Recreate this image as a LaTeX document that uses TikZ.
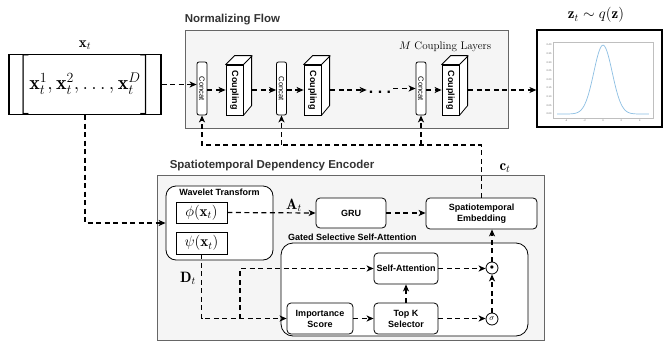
\RequirePackage{fix-cm}
\documentclass[tikz,border=0pt]{standalone}
\usepackage{amsmath}
\usepackage{amssymb}
\usepackage{graphicx}
\usepackage{fontspec}
\setsansfont{Liberation Sans}
\usepackage{tikz}
\usetikzlibrary{arrows.meta}
\definecolor{panelfill}{HTML}{F5F5F5}
\definecolor{panelline}{HTML}{666666}
\definecolor{titlegray}{HTML}{333333}
\definecolor{curveblue}{HTML}{8DBFE3}

\begin{document}
\begin{tikzpicture}[x=1pt,y=-1pt,
	panel/.style={draw=panelline,fill=panelfill,line width=0.8pt,inner sep=0pt},
	paneltitle/.style={font=\sffamily\bfseries\fontsize{11.5}{13}\selectfont,text=titlegray,inner sep=0pt},
	block/.style={draw,fill=white,rounded corners=4pt,line width=0.8pt,align=center,inner sep=0pt,font=\sffamily\bfseries\fontsize{9}{11}\selectfont},
	plainbox/.style={draw,fill=white,line width=0.8pt,inner sep=0pt},
	concatbox/.style={draw,fill=white,rounded corners=2pt,line width=0.8pt,inner sep=0pt,minimum width=10,minimum height=53,font=\sffamily\fontsize{7.5}{9}\selectfont},
	couplingbox/.style={draw,fill=white,line width=0.8pt,inner sep=0pt,minimum width=17,minimum height=50,font=\sffamily\bfseries\fontsize{9}{11}\selectfont},
	sublabel/.style={inner sep=0pt,font=\sffamily\bfseries\fontsize{9}{11}\selectfont},
	mathlabel/.style={inner sep=0pt,font=\fontsize{15}{18}\selectfont},
	gate/.style={draw,fill=white,circle,line width=0.8pt,inner sep=0pt,minimum size=12,font=\fontsize{8}{9}\selectfont},
	ticklbl/.style={inner sep=0.3pt,text=black!60,font=\sffamily\fontsize{2.5}{3}\selectfont},
	flow/.style={draw,line width=1.2pt,dash pattern=on 5pt off 3.5pt,-{Stealth[length=7pt,width=6pt,inset=2pt]}}
]
	\useasboundingbox (0,0) rectangle (664,343);

	% panels
	\node[panel,minimum width=323,minimum height=98] (nf) at (346.5,79) {};
	\node[paneltitle,anchor=south west] (nftitle) at ([yshift=4pt]nf.north west) {Normalizing Flow};
	\node[panel,minimum width=387,minimum height=165] (enc) at (350.5,257.5) {};
	\node[paneltitle,anchor=south west] (enctitle) at ([xshift=13pt,yshift=4pt]enc.north west) {Spatiotemporal Dependency Encoder};

	% input
	\node[plainbox,line width=1.2pt,minimum width=152,minimum height=59,font=\fontsize{20}{24}\selectfont] (inp) at (85,84.5)
		{$\Bigg[\mathbf{x}_t^1,\mathbf{x}_t^2,\ldots,\mathbf{x}_t^D\Bigg]$};
	\node[mathlabel] (xlbl) at (85,45) {$\mathbf{x}_t$};

	% normalizing flow
	\node[concatbox] (cc1) at (202,88.5) {\rotatebox{-90}{Concat}};
	\node[couplingbox] (cpl1) at (234.5,90) {\rotatebox{-90}{Coupling}};
	\node[concatbox] (cc2) at (281.5,88.5) {\rotatebox{-90}{Concat}};
	\node[couplingbox] (cpl2) at (312.5,90) {\rotatebox{-90}{Coupling}};
	\node[anchor=base,inner sep=2pt,font=\sffamily\bfseries\fontsize{16}{18}\selectfont] (ell) at (380,93) {.~.~.};
	\node[concatbox] (cc3) at (421,88.5) {\rotatebox{-90}{Concat}};
	\node[couplingbox] (cpl3) at (450.5,90) {\rotatebox{-90}{Coupling}};
	\node[inner sep=0pt,font=\fontsize{11}{13}\selectfont] (mlbl) at (445,47) {$M$ Coupling Layers};
	\foreach \cp in {cpl1,cpl2,cpl3}
		\draw[fill=white,line width=0.8pt,line join=round] (\cp.north west) -- ++(9,-9) -- ++(17,0) -- ++(0,50)
			-- (\cp.south east) -- (\cp.north east) -- cycle (\cp.north east) -- ++(9,-9);

	% prior
	\node[plainbox,line width=1.2pt,minimum width=125,minimum height=97] (gauss) at (599.5,78.5) {};
	\node[mathlabel] (zlbl) at (596,15) {$\mathbf{z}_t\sim q(\mathbf{z})$};
	\draw[black!25,line width=0.5pt] (553,42) rectangle (653,118);
	\foreach \v [count=\i from 0] in {0.00,0.05,0.10,0.15,0.20,0.25,0.30,0.35,0.40}
		\node[ticklbl,anchor=east] (ytick\i) at (552,114-8.625*\i) {\v};
	\foreach \t [count=\i] in {-4,-2,0,2,4}
		\node[ticklbl,anchor=north] (xtick\i) at (603+9.2*\t,119) {\t};
	\draw[curveblue,line width=0.7pt] plot[domain=-5:5,samples=80,smooth] ({603+9.2*\x},{114-68.8*exp(-0.5*(\x)*(\x))});

	% encoder
	\node[plainbox,rounded corners=10pt,minimum width=107,minimum height=74] (wt) at (219.5,223) {};
	\node[sublabel] (wtlbl) at (219.5,192) {Wavelet Transform};
	\node[plainbox,minimum width=51,minimum height=21,font=\fontsize{15}{18}\selectfont] (phi) at (201.5,212.5) {$\phi(\mathbf{x}_t)$};
	\node[plainbox,minimum width=51,minimum height=22,font=\fontsize{15}{18}\selectfont] (psi) at (201.5,243) {$\psi(\mathbf{x}_t)$};
	\node[block,minimum width=70,minimum height=30] (gru) at (351,213) {GRU};
	\node[block,minimum width=111,minimum height=31] (se) at (481.5,213.5) {Spatiotemporal\\Embedding};
	\node[plainbox,rounded corners=12pt,minimum width=247,minimum height=93] (gssa) at (404.5,289.5) {};
	\node[sublabel,anchor=west] (gssalbl) at (288,237) {Gated Selective Self-Attention};
	\node[block,minimum width=64,minimum height=31] (sa) at (406,268.5) {Self-Attention};
	\node[block,minimum width=64,minimum height=31] (tk) at (406,318.5) {Top K\\Selector};
	\node[block,minimum width=66,minimum height=31] (imp) at (320,318.5) {Importance\\Score};
	\node[gate] (dot) at (492,268) {$\bullet$};
	\node[gate] (sig) at (492,319) {$\sigma$};
	\node[mathlabel] (albl) at (294,205) {$\mathbf{A}_t$};
	\node[mathlabel] (clbl) at (505,168) {$\mathbf{c}_t$};
	\node[mathlabel] (dlbl) at (188,278) {$\mathbf{D}_t$};
	\coordinate (ctop) at (481.5,145);
	\coordinate (dsplit) at (240,318.5);

	% connectors
	\draw[flow] (inp.east) -- (inp.east -| cc1.west);
	\draw[flow] (cc1.east |- cpl1.west) -- (cpl1.west);
	\draw[flow] ([xshift=9pt]cpl1.east) -- (cpl1.east -| cc2.west);
	\draw[flow] (cc2.east |- cpl2.west) -- (cpl2.west);
	\draw[flow] ([xshift=9pt]cpl2.east) -- (cpl2.east -| ell.west);
	\draw[flow] (ell.east |- cc3.west) -- (cc3.west);
	\draw[flow] (cc3.east |- cpl3.west) -- (cpl3.west);
	\draw[flow] ([xshift=9pt]cpl3.east) -- (cpl3.east -| gauss.west);
	\draw[flow] (inp.south) |- (wt.west);
	\draw[flow] (phi.east) -- (gru.west);
	\draw[flow] (gru.east) -- (gru.east -| se.west);
	\draw[flow] (se.north) -- (ctop) -| (cc1.south);
	\draw[flow] (cc2.south |- ctop) -- (cc2.south);
	\draw[flow] (cc3.south |- ctop) -- (cc3.south);
	\draw[flow] (psi.south) |- (imp.west);
	\draw[flow] (dsplit) |- (sa.west);
	\draw[flow] (imp.east) -- (tk.west);
	\draw[flow] (tk.north) -- (sa.south);
	\draw[flow] (sa.east) -- (sa.east -| dot.west);
	\draw[flow] (tk.east) -- (tk.east -| sig.west);
	\draw[flow] (sig.north) -- (dot.south);
	\draw[flow] (dot.north) -- (dot.north |- se.south);
\end{tikzpicture}
\end{document}
